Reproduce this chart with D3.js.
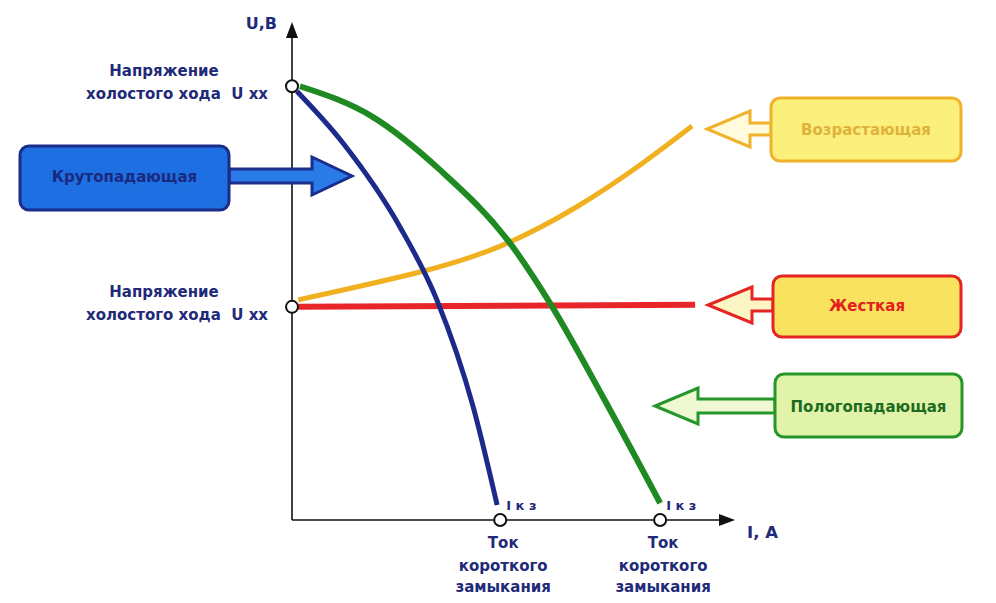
<!DOCTYPE html>
<html>
<head>
<meta charset="utf-8">
<script src="https://cdn.jsdelivr.net/npm/d3@7"></script>
<style>
  body { margin: 0; background: #fff; }
  text { font-family: "DejaVu Sans", Verdana, sans-serif; font-weight: bold; }
</style>
</head>
<body>
<div id="container"></div>
<script>
// current I (arbitrary units 0..100) and voltage U (0..100)
const steepI = [1.1, 11.5, 24.4, 32.7, 40.9, 46.3];
const steepU = [86.1, 75.7, 58.8, 44.2, 22.7, 3.0];

const gentleI = [1.8, 18.3, 33.4, 49.2, 58.2, 70.2, 83.1];
const gentleU = [87.1, 80.9, 70.3, 55.6, 43.6, 24.7, 3.4];

const risingI = [1.4, 28.9, 47.6, 64.3, 79.2, 90.3];
const risingU = [44.2, 49.8, 55.2, 62.9, 71.7, 79.1];

const flatI = [1.4, 91.0];
const flatU = [42.8, 43.2];

const openCircuitU = [87.1, 42.8];   // U xx points on the U axis
const shortCircuitI = [47.0, 83.1];  // I кз points on the I axis

const names = ["Крутопадающая", "Возрастающая", "Жесткая", "Пологопадающая"];

const width = 996, height = 603;
const svg = d3.select('#container').append('svg')
  .attr('width', width).attr('height', height);

const x = d3.scaleLinear().domain([0, 100]).range([292, 735]);
const y = d3.scaleLinear().domain([0, 100]).range([520, 22]);

const navy = '#1f2a78';

// axes with arrow heads
const axis = svg.append('g').attr('stroke', '#111').attr('stroke-width', 1.6);
axis.append('line').attr('x1', x(0)).attr('y1', y(0)).attr('x2', x(0)).attr('y2', y(100) + 14);
axis.append('line').attr('x1', x(0)).attr('y1', y(0)).attr('x2', x(100) - 14).attr('y2', y(0));
svg.append('path')
  .attr('d', `M${x(0)},${y(100)} L${x(0) - 6},${y(100) + 16} L${x(0) + 6},${y(100) + 16} Z`)
  .attr('fill', '#111');
svg.append('path')
  .attr('d', `M${x(100)},${y(0)} L${x(100) - 16},${y(0) - 6} L${x(100) - 16},${y(0) + 6} Z`)
  .attr('fill', '#111');

svg.append('text').attr('x', 277).attr('y', 29).attr('text-anchor', 'end')
  .attr('font-size', 16).attr('fill', navy).text('U,B');
svg.append('text').attr('x', 747).attr('y', 538)
  .attr('font-size', 16.5).attr('fill', navy).text('I, A');

// curves
const curves = [
  { I: risingI, U: risingU, color: '#f0b020', w: 5, curve: d3.curveNatural },
  { I: flatI, U: flatU, color: '#e8262a', w: 6, curve: d3.curveLinear },
  { I: gentleI, U: gentleU, color: '#1f8a22', w: 6, curve: d3.curveMonotoneX },
  { I: steepI, U: steepU, color: '#1c2a8c', w: 5, curve: d3.curveMonotoneX }
];
svg.append('g').selectAll('path').data(curves).enter().append('path')
  .attr('d', c => d3.line().x(d => x(d[0])).y(d => y(d[1])).curve(c.curve)(d3.zip(c.I, c.U)))
  .attr('fill', 'none')
  .attr('stroke', c => c.color)
  .attr('stroke-width', c => c.w)
  .attr('stroke-linecap', 'butt');

// marker circles
svg.append('g').selectAll('circle').data(openCircuitU).enter().append('circle')
  .attr('cx', x(0)).attr('cy', d => y(d)).attr('r', 6)
  .attr('fill', '#fff').attr('stroke', '#111').attr('stroke-width', 2);
svg.append('g').selectAll('circle').data(shortCircuitI).enter().append('circle')
  .attr('cx', d => x(d)).attr('cy', y(0)).attr('r', 6)
  .attr('fill', '#fff').attr('stroke', '#111').attr('stroke-width', 2);

// U xx labels
openCircuitU.forEach(u => {
  const g = svg.append('g').attr('fill', navy).attr('font-size', 15);
  g.append('text').attr('x', 164).attr('y', y(u) - 10).attr('text-anchor', 'middle').text('Напряжение');
  g.append('text').attr('x', 268).attr('y', y(u) + 13).attr('text-anchor', 'end')
    .attr('xml:space', 'preserve').text('холостого хода  U xx');
});

// I кз labels
shortCircuitI.forEach(i => {
  const cx = x(i) + 3;
  svg.append('text').attr('x', x(i) + 6).attr('y', y(0) - 10)
    .attr('font-size', 13).attr('fill', navy).attr('xml:space', 'preserve').text('I к з');
  const g = svg.append('g').attr('fill', navy).attr('font-size', 15).attr('text-anchor', 'middle');
  g.append('text').attr('x', cx).attr('y', 548).text('Ток');
  g.append('text').attr('x', cx).attr('y', 571).text('короткого');
  g.append('text').attr('x', cx).attr('y', 592).text('замыкания');
});

// label boxes with arrows
const boxes = [
  { x0: 20, x1: 229, y0: 146, y1: 210, tip: 352, head: 312, hh: 19, sh: 7, ay: 176,
    fill: '#1e6fe2', arrowFill: '#2a7ae8', stroke: '#1a2d8a', text: '#1a2a80' },
  { x0: 771, x1: 961, y0: 98, y1: 161, tip: 707, head: 750, hh: 18, sh: 6, ay: 129,
    fill: '#fbf07c', arrowFill: '#fffbdc', stroke: '#efb22a', text: '#e0b23c' },
  { x0: 773, x1: 961, y0: 276, y1: 337, tip: 708, head: 752, hh: 18, sh: 6, ay: 305,
    fill: '#f9e35e', arrowFill: '#fdf6c4', stroke: '#e52521', text: '#e3201f' },
  { x0: 775, x1: 962, y0: 374, y1: 437, tip: 655, head: 698, hh: 18, sh: 7, ay: 406,
    fill: '#e0f3a8', arrowFill: '#eef8d2', stroke: '#27962a', text: '#1d6b22' }
];

boxes.forEach((b, i) => {
  const right = b.tip > b.x1;
  const base = right ? b.x1 : b.x0;
  const pts = [
    [base, b.ay - b.sh], [b.head, b.ay - b.sh], [b.head, b.ay - b.hh],
    [b.tip, b.ay], [b.head, b.ay + b.hh], [b.head, b.ay + b.sh], [base, b.ay + b.sh]
  ];
  svg.append('path').attr('d', 'M' + pts.join('L') + 'Z')
    .attr('fill', b.arrowFill).attr('stroke', b.stroke).attr('stroke-width', 3)
    .attr('stroke-linejoin', 'miter');
  svg.append('rect').attr('x', b.x0).attr('y', b.y0)
    .attr('width', b.x1 - b.x0).attr('height', b.y1 - b.y0)
    .attr('rx', 9).attr('fill', b.fill).attr('stroke', b.stroke).attr('stroke-width', 3);
  svg.append('text').attr('x', (b.x0 + b.x1) / 2).attr('y', b.ay + 6)
    .attr('text-anchor', 'middle').attr('font-size', 15)
    .attr('fill', b.text).text(names[i]);
});
</script>
</body>
</html>
